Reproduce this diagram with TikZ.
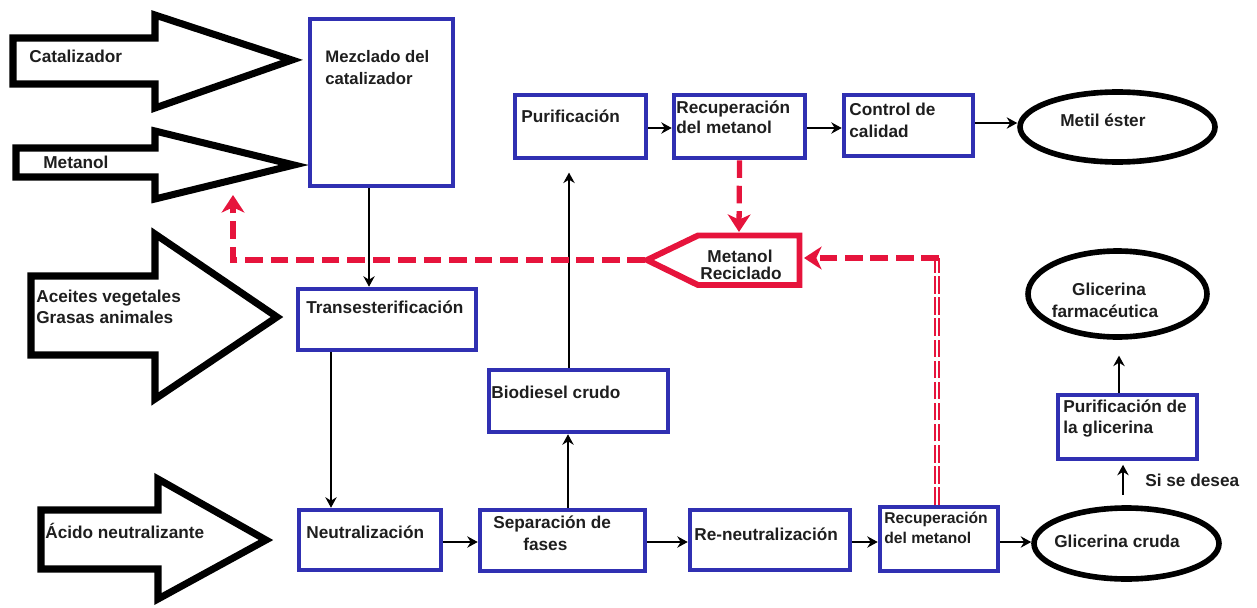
\documentclass[tikz,border=0pt]{standalone}
\usepackage{fontspec}
\setmainfont{Liberation Sans}
\usetikzlibrary{arrows.meta,shapes.geometric,calc}
\definecolor{boxblue}{RGB}{48,48,178}
\definecolor{recred}{RGB}{230,20,60}
\definecolor{txt}{RGB}{30,30,30}
\tikzset{
  bluebox/.style={draw=boxblue, line width=2.6pt, inner sep=0pt},
  bigarrow/.style={draw=black, line width=4pt, line join=miter},
  oval/.style={ellipse, draw=black, line width=3.2pt, inner sep=0pt},
  conn/.style={draw=black, line width=0.8pt, -{Stealth[length=6pt,width=6.5pt,inset=2pt]}},
  recy/.style={draw=recred, line width=3pt, dash pattern=on 10pt off 4.5pt},
  redtip/.style={-{Stealth[length=10pt,width=13pt,inset=3pt]}},
  lbl/.style={anchor=base west, inner sep=0pt, font=\fontsize{9.8}{12}\selectfont\bfseries, text=txt},
  clbl/.style={lbl, anchor=base},
  slbl/.style={lbl, font=\fontsize{8.9}{11}\selectfont\bfseries},
}
\begin{document}
\begin{tikzpicture}[x=0.02cm,y=-0.02cm]
\useasboundingbox (0,0) rectangle (1257,608);

% big input arrows
\draw[bigarrow] (13,38) -- (155,38) -- (155,15) -- (292,60) -- (155,108) -- (155,84) -- (13,84) -- cycle;
\draw[bigarrow] (16,148) -- (155,148) -- (155,131) -- (294,165) -- (155,199) -- (155,177) -- (16,177) -- cycle;
\draw[bigarrow] (31,276) -- (155,276) -- (155,234) -- (277,317) -- (155,399) -- (155,355) -- (31,355) -- cycle;
\draw[bigarrow] (41,510) -- (158,510) -- (158,479) -- (266,540) -- (158,599) -- (158,569) -- (41,569) -- cycle;

\node[lbl] (tcat) at (29,63) {Catalizador};
\node[lbl] (tmet) at (43,168) {Metanol};
\node[lbl] (tac1) at (36,302) {Aceites vegetales};
\node[lbl] (tac2) at (36,323) {Grasas animales};
\node[lbl] (tacd) at (45,538) {Ácido neutralizante};

% boxes
\node[bluebox, minimum width=2.86cm, minimum height=3.34cm] (mez) at (381.5,102.5) {};
\node[bluebox, minimum width=3.56cm, minimum height=1.22cm] (trans) at (387,319.5) {};
\node[bluebox, minimum width=2.84cm, minimum height=1.20cm] (neu) at (370,540) {};
\node[bluebox, minimum width=2.62cm, minimum height=1.26cm] (pur) at (580.5,126.5) {};
\node[bluebox, minimum width=2.62cm, minimum height=1.26cm] (rec1) at (739.5,126.5) {};
\node[bluebox, minimum width=2.58cm, minimum height=1.22cm] (ctl) at (908.5,125.5) {};
\node[bluebox, minimum width=3.58cm, minimum height=1.24cm] (bio) at (578.5,401) {};
\node[bluebox, minimum width=3.30cm, minimum height=1.22cm] (sep) at (562.5,540.5) {};
\node[bluebox, minimum width=3.20cm, minimum height=1.20cm] (ren) at (770,540) {};
\node[bluebox, minimum width=2.36cm, minimum height=1.28cm] (rec2) at (939,539) {};
\node[bluebox, minimum width=2.78cm, minimum height=1.28cm] (purg) at (1127.5,427) {};

\node[oval, minimum width=3.90cm, minimum height=1.40cm] (metil) at (1117.5,127) {};
\node[oval, minimum width=3.70cm, minimum height=1.42cm] (glc) at (1126.5,543.5) {};
\node[oval, minimum width=3.58cm, minimum height=1.72cm] (glf) at (1117.5,294) {};

% box texts
\node[lbl, font=\fontsize{9.5}{12}\selectfont\bfseries] (tmez1) at (325,63) {Mezclado del};
\node[lbl, font=\fontsize{9.5}{12}\selectfont\bfseries] (tmez2) at (325,85) {catalizador};
\node[lbl] (ttra) at (306,313) {Transesterificación};
\node[lbl] (tneu) at (306,538) {Neutralización};
\node[lbl] (tpur) at (521,122) {Purificación};
\node[lbl] (trc1a) at (676,113) {Recuperación};
\node[lbl] (trc1b) at (676,133) {del metanol};
\node[lbl] (tctla) at (849,115) {Control de};
\node[lbl] (tctlb) at (849,137) {calidad};
\node[lbl] (tmetil) at (1060,127) {Metil éster};
\node[lbl] (tbio) at (491,398) {Biodiesel crudo};
\node[lbl] (tsepa) at (493,528) {Separación de};
\node[lbl] (tsepb) at (523,550) {fases};
\node[lbl] (tren) at (694,540) {Re-neutralización};
\node[slbl] (trc2a) at (884,523) {Recuperación};
\node[slbl] (trc2b) at (884,543) {del metanol};
\node[clbl] (tglc) at (1117,547) {Glicerina cruda};
\node[lbl] (tpga) at (1063,412) {Purificación de};
\node[lbl] (tpgb) at (1063,433) {la glicerina};
\node[clbl] (tgfa) at (1109,295) {Glicerina};
\node[clbl] (tgfb) at (1105,317) {farmacéutica};
\node[lbl] (tsi) at (1145,486) {Si se desea};

% recycled methanol pentagon
\draw[draw=recred, line width=3.4pt, line join=miter] (647,260) -- (698,235.5) -- (799.5,235.5) -- (799.5,285) -- (698,285) -- cycle;
\node[clbl] (tmr1) at (740,262) {Metanol};
\node[clbl] (tmr2) at (741,279) {Reciclado};
\coordinate (mrtip) at (645,260);
\coordinate (mrtop) at (739,232);
\coordinate (mrright) at (804,258);
\coordinate (mzin) at (233,195);

% black connectors
\draw[conn] ($(mez.south)+(-12.5,0)$) coordinate (a1) -- (a1 |- trans.north);
\draw[conn] ($(trans.south)+(-56,0)$) coordinate (a2) -- (a2 |- neu.north);
\draw[conn] ($(neu.east)+(0,2)$) coordinate (a3) -- (a3 -| sep.west);
\draw[conn] ($(sep.north)+(5.5,0)$) coordinate (a4) -- (a4 |- bio.south);
\draw[conn, shorten >=7pt] ($(bio.north)+(-9.5,0)$) coordinate (a5) -- (a5 |- pur.south);
\draw[conn] ($(pur.east)+(0,1.5)$) coordinate (a6) -- (a6 -| rec1.west);
\draw[conn] ($(rec1.east)+(0,1.5)$) coordinate (a7) -- (a7 -| ctl.west);
\draw[conn] ($(ctl.east)+(0,-2.5)$) coordinate (a8) -- (a8 -| metil.west);
\draw[conn] ($(sep.east)+(0,1.5)$) coordinate (a9) -- (a9 -| ren.west);
\draw[conn] ($(ren.east)+(0,2)$) coordinate (a10) -- (a10 -| rec2.west);
\draw[conn] ($(rec2.east)+(0,3)$) coordinate (a11) -- (a11 -| glc.west);
\draw[conn, shorten <=6pt, shorten >=2pt] ($(glc.north)+(-3.5,0)$) coordinate (a12) -- (a12 |- purg.south);
\draw[conn, shorten >=9pt] ($(purg.north)+(-8.5,0)$) coordinate (a13) -- (a13 |- glf.south);

% red recycle lines
\draw[recy, redtip] (rec1.south) -- (mrtop);
\draw[recy, redtip] (mrtip) -- (mrtip -| mzin) -- (mzin);
\draw[draw=recred, line width=1.5pt, double=white, double distance=0.8pt, dash pattern=on 10pt off 2pt] ($(rec2.north)+(-2,0)$) coordinate (a14) -- (a14 |- mrright) coordinate (rc);
\draw[recy, redtip] ($(rc)+(2,0)$) -- (mrright);
\end{tikzpicture}
\end{document}
